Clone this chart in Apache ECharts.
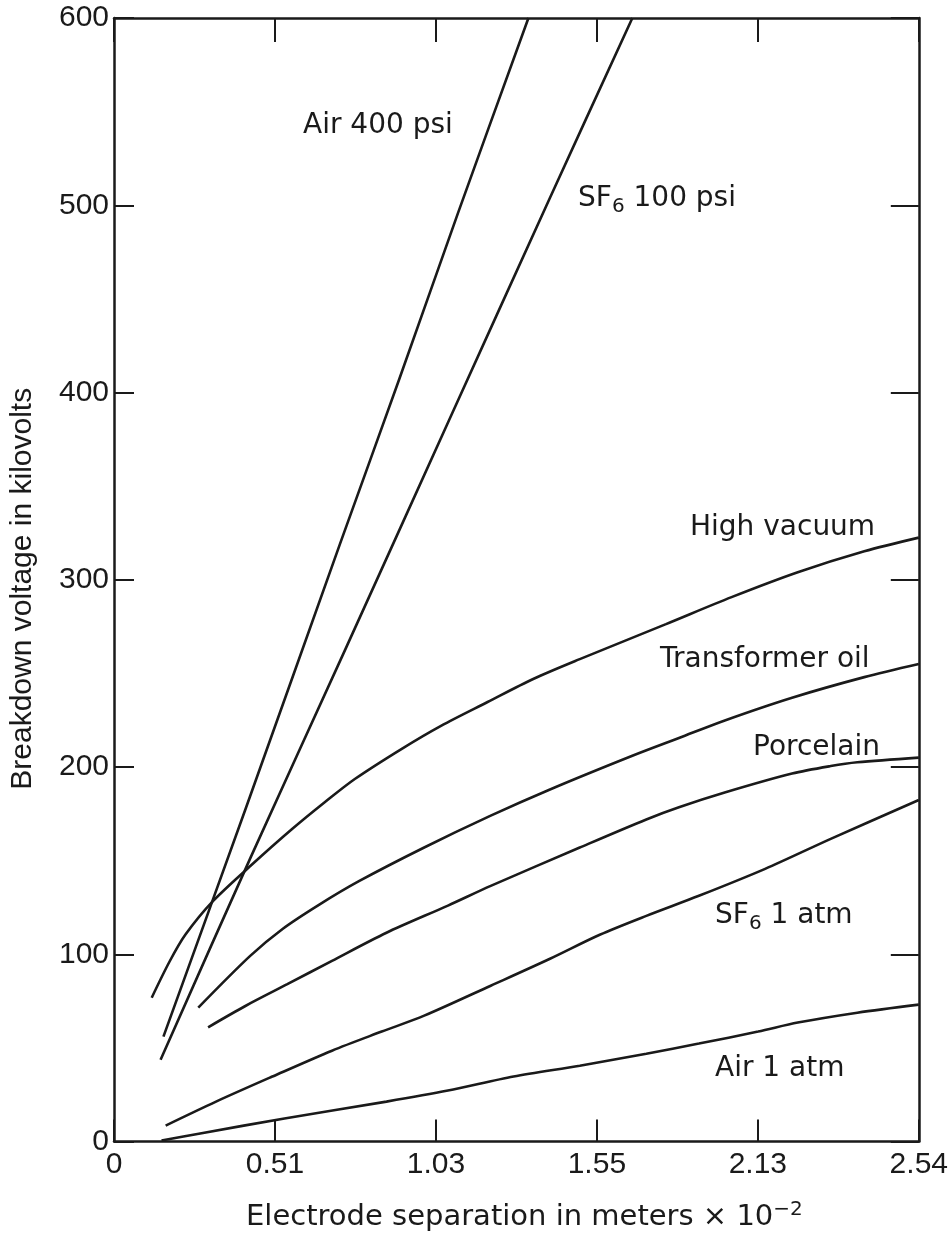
<!DOCTYPE html>
<html>
<head>
<meta charset="utf-8">
<script src="https://cdn.jsdelivr.net/npm/echarts@6/dist/echarts.min.js"></script>
<style>
html,body{margin:0;padding:0;background:#fff;}
#chart{width:951px;height:1237px;}
</style>
</head>
<body>
<div id="chart"></div>
<script>
// ---- data (x: electrode separation, m x 10^-2 ; y: breakdown voltage, kV) ----
const xTickLabels = ['0', '0.51', '1.03', '1.55', '2.13', '2.54'];
const xTickStep = 0.508;

const air400X = [0.156, 0.416, 0.713, 0.901, 1.085, 1.308];
const air400Y = [56, 178, 319, 407.5, 495.5, 600];

const sf6_100X = [0.147, 0.432, 0.729, 1.057, 1.376, 1.636];
const sf6_100Y = [43.7, 152, 262.4, 385, 504, 600];

const vacuumX = [0.119, 0.175, 0.225, 0.313, 0.438, 0.563, 0.666, 0.760, 0.907, 1.032, 1.179, 1.323, 1.470, 1.742, 1.949, 2.158, 2.368, 2.540];
const vacuumY = [76.8, 96, 110.4, 128.5, 148.3, 167, 181.3, 193.6, 209.6, 222, 234.7, 247, 257.6, 276.3, 290.7, 304, 315.2, 322.5];

const oilX = [0.266, 0.429, 0.532, 0.648, 0.773, 0.979, 1.189, 1.376, 1.636, 1.783, 1.930, 2.140, 2.368, 2.540];
const oilY = [71.5, 99, 113.5, 126.5, 139, 157, 174, 188, 206, 215.5, 225, 237, 248, 255];

const porcelainX = [0.297, 0.416, 0.547, 0.688, 0.860, 1.054, 1.189, 1.470, 1.680, 1.783, 1.930, 2.140, 2.262, 2.346, 2.540];
const porcelainY = [61, 72.5, 84, 96.5, 111.5, 126, 136.5, 157, 172, 178.5, 186.5, 196.5, 200.5, 202.5, 205];

const sf6_1X = [0.163, 0.322, 0.500, 0.688, 0.845, 0.979, 1.189, 1.376, 1.533, 1.680, 1.846, 2.055, 2.262, 2.540];
const sf6_1Y = [8.5, 21.3, 34.7, 48.5, 58.7, 67.2, 83.2, 97.6, 110.4, 120.5, 131.2, 145.6, 161.6, 182.4];

const air1X = [0.150, 0.272, 0.538, 0.860, 1.054, 1.261, 1.470, 1.680, 1.846, 2.033, 2.158, 2.346, 2.540];
const air1Y = [0.5, 4.3, 12.3, 21.3, 27.2, 34.7, 40.5, 46.9, 52.3, 58.7, 63.5, 68.8, 73.1];

const seriesNames = ['Air 400 psi', 'SF6 100 psi', 'High vacuum', 'Transformer oil', 'Porcelain', 'SF6 1 atm', 'Air 1 atm'];
const seriesXs = [air400X, sf6_100X, vacuumX, oilX, porcelainX, sf6_1X, air1X];
const seriesYs = [air400Y, sf6_100Y, vacuumY, oilY, porcelainY, sf6_1Y, air1Y];

// ---- chart ----
const INK = '#1a1a1a';
const TICK_FONT = '"Liberation Sans", Arial, sans-serif';
const LABEL_FONT = '"DejaVu Sans", sans-serif';

const chart = echarts.init(document.getElementById('chart'), null, {renderer: 'canvas'});

const series = seriesNames.map((name, i) => ({
  name: name,
  type: 'line',
  xAxisIndex: 0,
  yAxisIndex: 0,
  data: seriesXs[i].map((x, j) => [x, seriesYs[i][j]]),
  showSymbol: false,
  symbol: 'none',
  smooth: 0.3,
  silent: true,
  lineStyle: {color: INK, width: 2.6},
  z: 5
}));

const subRich = {
  s: {fontFamily: LABEL_FONT, fontSize: 20, color: INK, padding: [16, 0, 0, 0]}
};

function label(text, x, y) {
  return {
    type: 'text',
    x: x,
    y: y,
    silent: true,
    z: 10,
    style: {
      text: text,
      fontFamily: LABEL_FONT,
      fontSize: 28,
      fill: INK,
      align: 'left',
      verticalAlign: 'middle',
      rich: subRich
    }
  };
}

const option = {
  animation: false,
  backgroundColor: '#ffffff',
  grid: {left: 110, right: 29, top: 18, bottom: 94, containLabel: false},
  xAxis: [
    {
      type: 'value', position: 'bottom', min: 0, max: 2.54, interval: xTickStep,
      axisLine: {show: true, onZero: false, lineStyle: {color: INK, width: 2.5}},
      axisTick: {show: true, inside: true, length: 22, lineStyle: {color: INK, width: 2}},
      axisLabel: {
        show: true, margin: 8, color: INK, fontSize: 30, fontFamily: TICK_FONT,
        formatter: function (v) {
          const i = Math.round(v / xTickStep);
          return xTickLabels[i] !== undefined ? xTickLabels[i] : '';
        }
      },
      splitLine: {show: false},
      name: 'Electrode separation in meters × 10{sup|−2}',
      nameLocation: 'middle',
      nameGap: 58,
      nameTextStyle: {
        color: INK, fontSize: 29, fontFamily: LABEL_FONT,
        padding: [0, 0, 0, 16],
        rich: {sup: {fontFamily: LABEL_FONT, fontSize: 20, color: INK, padding: [0, 0, 16, 0]}}
      }
    },
    {
      type: 'value', position: 'top', min: 0, max: 2.54, interval: xTickStep,
      axisLine: {show: true, onZero: false, lineStyle: {color: INK, width: 2.5}},
      axisTick: {show: true, inside: true, length: 24, lineStyle: {color: INK, width: 2}},
      axisLabel: {show: false},
      splitLine: {show: false}
    }
  ],
  yAxis: [
    {
      type: 'value', position: 'left', min: 0, max: 600, interval: 100,
      axisLine: {show: true, onZero: false, lineStyle: {color: INK, width: 2.5}},
      axisTick: {show: true, inside: true, length: 20, lineStyle: {color: INK, width: 2}},
      axisLabel: {show: true, margin: 5, color: INK, fontSize: 30, fontFamily: TICK_FONT},
      splitLine: {show: false},
      name: 'Breakdown voltage in kilovolts',
      nameLocation: 'middle',
      nameGap: 76,
      nameTextStyle: {color: INK, fontSize: 30, fontFamily: TICK_FONT, padding: [0, 18, 0, 0]}
    },
    {
      type: 'value', position: 'right', min: 0, max: 600, interval: 100,
      axisLine: {show: true, onZero: false, lineStyle: {color: INK, width: 2.5}},
      axisTick: {show: true, inside: true, length: 28, lineStyle: {color: INK, width: 2}},
      axisLabel: {show: false},
      splitLine: {show: false}
    }
  ],
  series: series,
  graphic: [
    label(seriesNames[0], 303, 126),
    label('SF{s|6} 100 psi', 578, 199),
    label(seriesNames[2], 690, 528),
    label(seriesNames[3], 660, 660),
    label(seriesNames[4], 753, 748),
    label('SF{s|6} 1 atm', 715, 916),
    label(seriesNames[6], 715, 1069)
  ]
};

chart.setOption(option);
</script>
</body>
</html>
